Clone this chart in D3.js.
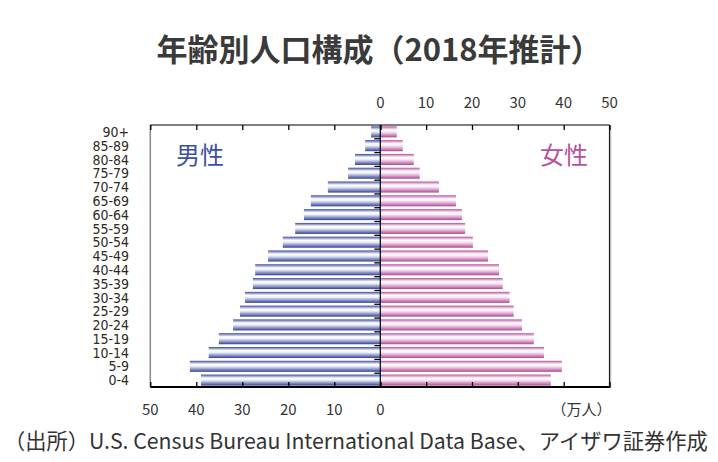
<!DOCTYPE html>
<html><head><meta charset="utf-8">
<script src="https://cdn.jsdelivr.net/npm/d3@7/dist/d3.min.js"></script>
<style>body{margin:0;background:#fff}svg{display:block}</style>
</head><body>
<svg id="c" width="718" height="462"></svg>
<script>
const ages = ["0-4","5-9","10-14","15-19","20-24","25-29","30-34","35-39","40-44","45-49","50-54","55-59","60-64","65-69","70-74","75-79","80-84","85-89","90+"];
const male = [39.0,41.4,37.3,35.1,32.0,30.5,29.4,27.7,27.2,24.4,21.2,18.5,16.6,15.1,11.4,7.0,5.5,3.3,2.0];
const female = [37.2,39.6,35.7,33.5,30.9,29.1,28.2,26.7,25.9,23.5,20.2,18.5,17.8,16.5,12.8,8.6,7.3,4.9,3.6];
const ticks = [0,10,20,30,40,50];
const title = "年齢別人口構成（2018年推計）";
const source = "（出所）U.S. Census Bureau International Data Base、アイザワ証券作成";

const svg = d3.select("#c");
const FONT = "'Noto Sans CJK JP','Noto Sans',sans-serif";
const x0 = 380.3, L = 150.3, R = 609.5, T = 125, B = 387;
const xM = d3.scaleLinear().domain([0,50]).range([x0, L]);
const xF = d3.scaleLinear().domain([0,50]).range([x0, R]);
const y = d3.scaleBand().domain(ages.slice().reverse()).range([T, B]).paddingInner(0.2).paddingOuter(0.1);

const defs = svg.append("defs");
function grad(id, stops){
  const g = defs.append("linearGradient").attr("id", id).attr("x1",0).attr("y1",0).attr("x2",0).attr("y2",1);
  stops.forEach(([o,c])=>g.append("stop").attr("offset",o).attr("stop-color",c));
}
grad("gm", [[0,"#34428f"],[0.12,"#8d95c8"],[0.32,"#ffffff"],[0.5,"#eceef7"],[0.75,"#8f97c9"],[1,"#35438f"]]);
grad("gf", [[0,"#ad4996"],[0.12,"#d99acb"],[0.32,"#ffffff"],[0.5,"#f8e8f3"],[0.75,"#d79ac9"],[1,"#ac4895"]]);

// title
svg.append("text").attr("x",379).attr("y",61).attr("text-anchor","middle")
  .attr("font-family",FONT).attr("font-weight","bold").attr("font-size",31).attr("fill","#3a3a3a").text(title);

// bars
const data = ages.map((a,i)=>({a, m:male[i], f:female[i]}));
svg.append("g").selectAll("rect").data(data).join("rect")
  .attr("x", d=>xM(d.m)).attr("y", d=>y(d.a)).attr("width", d=>x0-xM(d.m)).attr("height", y.bandwidth())
  .attr("fill","url(#gm)");
svg.append("g").selectAll("rect").data(data).join("rect")
  .attr("x", x0).attr("y", d=>y(d.a)).attr("width", d=>xF(d.f)-x0).attr("height", y.bandwidth())
  .attr("fill","url(#gf)");

// frame
svg.append("line").attr("x1",L).attr("x2",L).attr("y1",T).attr("y2",B).attr("stroke","#888").attr("stroke-width",1.5);
svg.append("line").attr("x1",R).attr("x2",R).attr("y1",T).attr("y2",B).attr("stroke","#222").attr("stroke-width",1.2);
svg.append("line").attr("x1",R+1.2).attr("x2",R+1.2).attr("y1",T+1).attr("y2",B).attr("stroke","#aaa").attr("stroke-width",1);

function tickAxis(axis, scale, yPos){
  const g = svg.append("g").attr("transform",`translate(0,${yPos})`)
    .call(axis(scale).tickValues(ticks).tickSize(5).tickFormat(""));
  g.select(".domain").remove();
  g.selectAll(".tick line").attr("stroke","#000").attr("stroke-width",1.3);
}
tickAxis(d3.axisBottom, xF, T);
tickAxis(d3.axisBottom, xM, T);
tickAxis(d3.axisTop, xF, B);
tickAxis(d3.axisTop, xM, B);

svg.append("line").attr("x1",L).attr("x2",R).attr("y1",T).attr("y2",T).attr("stroke","#000").attr("stroke-width",1.2);
svg.append("g").selectAll("text").data(ticks).join("text")
  .attr("x", d=>xF(d)).attr("y",108).attr("text-anchor","middle")
  .attr("font-family",FONT).attr("font-size",15).attr("fill","#333").text(d=>d);

svg.append("line").attr("x1",L).attr("x2",R+1).attr("y1",B).attr("y2",B).attr("stroke","#000").attr("stroke-width",2.2);
svg.append("g").selectAll("text").data(ticks).join("text")
  .attr("x", d=>xM(d)).attr("y",415).attr("text-anchor","middle")
  .attr("font-family",FONT).attr("font-size",15).attr("fill","#333").text(d=>d);
svg.append("text").attr("x",R+2).attr("y",415).attr("text-anchor","end")
  .attr("font-family",FONT).attr("font-size",15).attr("fill","#333").text("（万人）");

// zero axis
svg.append("line").attr("x1",x0).attr("x2",x0).attr("y1",T).attr("y2",B).attr("stroke","#000").attr("stroke-width",1.2);
const bounds = ages.slice(1).map(a=>y(a)+y.bandwidth()+y.step()*y.paddingInner()/2);
svg.append("g").selectAll("line").data(bounds).join("line")
  .attr("x1",x0-6).attr("x2",x0).attr("y1",d=>d).attr("y2",d=>d).attr("stroke","#000").attr("stroke-width",1.3);

// age labels
svg.append("g").selectAll("text").data(ages).join("text")
  .attr("x",129).attr("y",d=>y(d)+y.bandwidth()/2).attr("dy","0.37em").attr("text-anchor","end")
  .attr("font-family","'DejaVu Sans Condensed','DejaVu Sans',sans-serif").attr("font-stretch","condensed")
  .attr("font-size",14).attr("fill","#2e2a24").text(d=>d);

// sex labels
svg.append("text").attr("x",176).attr("y",164).attr("font-family",FONT).attr("font-size",24).attr("fill","#3d51a3").text("男性");
svg.append("text").attr("x",540).attr("y",164).attr("font-family",FONT).attr("font-size",24).attr("fill","#b5519f").text("女性");

// source
const src = svg.append("text").attr("x",4).attr("y",449).attr("font-family",FONT).attr("font-size",18).attr("fill","#333").text(source);
const w = src.node().getComputedTextLength();
src.attr("font-size", 18*704/w);
</script>
</body></html>
